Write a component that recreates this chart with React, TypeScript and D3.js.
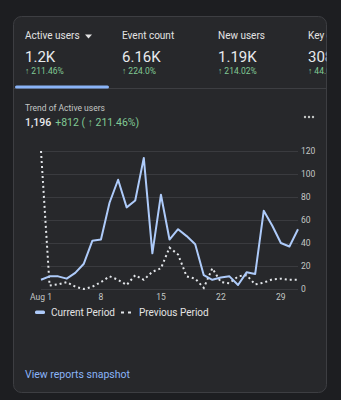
import React from "react";
import * as d3 from "d3";

const days = d3.range(1, 32);
const currentPeriod = [8, 11, 11, 9, 14, 22, 42, 43, 75, 95, 71, 77, 114, 31, 82, 43, 52, 46, 39, 12, 8, 10, 11, 3.5, 14.5, 13, 68, 55, 40, 37, 52];
const previousPeriod = [120, 3, 4, 6, 2, 0, 2, 6, 11, 8, 3.5, 12, 8, 15, 18, 36, 30, 11, 9, 1, 18, 6, 5, 11, 12, 4, 5.5, 8.4, 9, 8, 8];
const yTicks = [0, 20, 40, 60, 80, 100, 120];
const xTicks = [1, 8, 15, 22, 29];
const xTickLabels = ["Aug 1", "8", "15", "22", "29"];

const metricNames = ["Active users", "Event count", "New users", "Key events"];
const metricValues = ["1.2K", "6.16K", "1.19K", "308"];
const metricChanges = ["211.46%", "224.0%", "214.02%", "44.0%"];
const metricX = [25, 122, 218, 308];

const FONT = "Roboto, 'Noto Sans', sans-serif";

export default function App() {
  const x = d3.scaleLinear().domain([1, 31]).range([41, 298]);
  const y = d3.scaleLinear().domain([0, 120]).range([289, 151]);
  const line = d3
    .line<number>()
    .x((_, i) => x(days[i]))
    .y((v) => y(v));

  return (
    <svg
      width={341}
      height={400}
      style={{ position: "absolute", left: 0, top: 0, display: "block" }}
      fontFamily={FONT}
    >
      <defs>
        <clipPath id="cardClip">
          <rect x={13.5} y={16.5} width={313} height={376} rx={8} />
        </clipPath>
      </defs>
      <rect x={0} y={0} width={341} height={400} fill="#1d1e21" />
      <rect x={13.5} y={16.5} width={313} height={376} rx={8} fill="#27282b" stroke="#3d3e42" />
      <g clipPath="url(#cardClip)">
        {metricNames.map((n, i) => (
          <g key={n}>
            <text x={metricX[i]} y={39} fontSize={10} fill="#e3e3e3">
              {n}
            </text>
            <text x={metricX[i]} y={62} fontSize={15} fill="#e8eaed">
              {metricValues[i]}
            </text>
            <text x={metricX[i]} y={74} fontSize={8.5} fill="#81c995">
              {"↑ " + metricChanges[i]}
            </text>
          </g>
        ))}
        <path d="M85,34.5 L92,34.5 L88.5,38.5 Z" fill="#e3e3e3" />
        <line x1={13} x2={328} y1={88.5} y2={88.5} stroke="#3d3e42" />
        <rect x={15} y={85.5} width={94} height={3} rx={1.5} fill="#8ab4f8" />
      </g>

      <text x={25} y={111} fontSize={8.5} fill="#c4c7c5">
        Trend of Active users
      </text>
      <text x={25} y={126} fontSize={10.5} fill="#e8eaed" fontWeight={500}>
        1,196
        <tspan fill="#81c995" fontWeight={400} dx={4}>
          +812 ( ↑ 211.46%)
        </tspan>
      </text>
      {[0, 1, 2].map((i) => (
        <circle key={i} cx={305 + i * 4} cy={117} r={1.2} fill="#c4c7c5" />
      ))}

      {yTicks.map((t) => (
        <g key={t}>
          <line x1={41} x2={298} y1={y(t) + 0.5} y2={y(t) + 0.5} stroke="#3a3b3f" />
          <text x={301} y={y(t) + 3} fontSize={8.5} fill="#c4c7c5">
            {t}
          </text>
        </g>
      ))}
      {xTicks.map((t, i) => (
        <text key={t} x={x(t)} y={300} fontSize={8.5} fill="#c4c7c5" textAnchor="middle">
          {xTickLabels[i]}
        </text>
      ))}

      <path
        d={line(previousPeriod) || ""}
        fill="none"
        stroke="#e3e6ea"
        strokeWidth={2}
        strokeDasharray="2 3"
      />
      <path d={line(currentPeriod) || ""} fill="none" stroke="#aecbfa" strokeWidth={2} strokeLinejoin="round" />

      <rect x={35} y={310.5} width={10} height={3.5} rx={1.5} fill="#aecbfa" />
      <text x={51} y={315.5} fontSize={10} fill="#e3e3e3">
        Current Period
      </text>
      <line x1={121} x2={132} y1={312.5} y2={312.5} stroke="#e3e6ea" strokeWidth={2} strokeDasharray="3 4" />
      <text x={139} y={315.5} fontSize={10} fill="#e3e3e3">
        Previous Period
      </text>

      <text x={25} y={378} fontSize={10.5} fill="#8ab4f8">
        View reports snapshot
      </text>
    </svg>
  );
}
